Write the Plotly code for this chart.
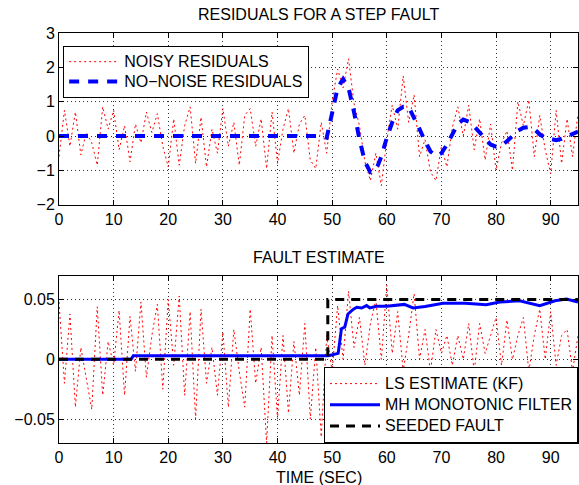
import plotly.graph_objects as go

# ---------------- data ----------------
t = list(range(0, 96))

noisy_residuals = [
    -0.6, 0.75, -0.3, 0.7, -0.55, 0.1, -0.2, -0.85, 0.85, 0.2,
    0.75, -0.4, 0.3, -0.75, 0.35, -0.2, 0.7, 0.1, 0.65, -0.3,
    -0.9, 0.5, -0.85, 0.3, 0.85, -0.8, 0.55, -0.9, 0.2, -0.5,
    0.8, -0.3, 0.4, -0.85, 0.6, 0.8, -0.3, 0.5, -0.95, 0.7,
    -0.8, 0.2, 0.8, -0.5, 0.35, 0.6, -0.7, -0.95, 0.4, -0.5,
    1.0, 1.95, 1.4, 2.25, 0.95, 0.3, -0.75, -1.3, -0.5, -1.45,
    -0.1, 0.9, 0.2, 1.75, 0.4, 1.2, -0.6, -0.1, -1.05, -1.3,
    -0.3, -0.9, 0.25, 0.85, 0.0, 0.9, -0.4, 0.5, -0.7, 0.35,
    -1.0, -0.2, 0.15, -1.0, 1.0, 0.3, 1.05, -0.6, 0.6, -0.4,
    -1.1, 0.75, -0.8, 0.5, -0.6, 0.65,
]

nonoise_residuals = [0.0] * 49 + [
    -0.05, 0.75, 1.4, 1.66, 1.4, 0.7, -0.1, -0.75, -1.05, -1.0,
    -0.6, -0.05, 0.4, 0.75, 0.85, 0.85, 0.55, 0.2, -0.15, -0.45,
    -0.58, -0.5, -0.25, 0.05, 0.35, 0.48, 0.42, 0.28, 0.1, -0.1,
    -0.25, -0.31, -0.28, -0.15, 0.0, 0.15, 0.24, 0.26, 0.2, 0.05,
    -0.05, -0.1, -0.12, -0.08, 0.0, 0.07, 0.13,
]

ls_estimate = [
    0.048, -0.02, 0.038, -0.04, 0.01, -0.015, -0.042, 0.044, -0.03, 0.015,
    -0.005, 0.041, -0.03, 0.036, -0.01, 0.048, -0.015, 0.02, 0.046, -0.025,
    0.05, -0.005, 0.053, -0.03, 0.04, -0.05, 0.042, -0.02, 0.01, -0.03,
    0.023, -0.04, 0.025, -0.01, -0.04, 0.042, -0.02, 0.01, -0.07, 0.02,
    -0.05, 0.02, -0.045, 0.015, -0.03, 0.03, -0.05, 0.01, -0.065, 0.02,
    -0.01, 0.045, 0.0, 0.057, 0.01, 0.035, -0.005, 0.03, 0.05, 0.0,
    0.062, 0.005, 0.04, -0.01, 0.02, 0.055, 0.0, 0.025, -0.01, 0.025,
    0.005, 0.02, -0.005, 0.02, 0.0, 0.03, -0.01, 0.03, 0.005, 0.02,
    0.035, -0.005, 0.033, 0.0, 0.02, 0.035, -0.01, 0.02, 0.042, 0.0,
    0.04, -0.005, 0.02, 0.025, -0.01, 0.02,
]

mh_t = [0, 13.2, 13.6, 49.3, 51.1, 51.7, 52.3, 52.9, 53.9, 54.5, 55.4, 56.3,
        56.9, 58.1, 60, 62.4, 63.2, 64.8, 67, 70.3, 74.4, 78.2, 80.7, 84.3,
        88, 90.8, 92.9, 95]
mh_filter = [0.0, 0.0, 0.003, 0.003, 0.005, 0.0257, 0.027, 0.038, 0.042, 0.0436,
             0.043, 0.045, 0.043, 0.0445, 0.0445, 0.0456, 0.046, 0.043, 0.0442,
             0.047, 0.047, 0.0457, 0.048, 0.049, 0.045, 0.049, 0.0505, 0.048]

fault_t = [0, 49.2, 49.2, 95]
seeded_fault = [0.0, 0.0, 0.05, 0.05]

x_ticks = [0, 10, 20, 30, 40, 50, 60, 70, 80, 90]
y1_ticks = [-2, -1, 0, 1, 2, 3]
y2_ticks = [-0.05, 0, 0.05]
y2_ticktext = ["\u22120.05", "0", "0.05"]

FONT = "Liberation Sans, Arial, sans-serif"


def lg(s):
    return '<span style="font-size:16px">' + s + '</span>'


fig = go.Figure()

fig.add_trace(go.Scatter(x=t, y=noisy_residuals, mode="lines", name=lg("NOISY RESIDUALS"),
                         line=dict(color="red", width=1, dash="2px,3px"),
                         xaxis="x", yaxis="y", legend="legend"))
fig.add_trace(go.Scatter(x=t, y=nonoise_residuals, mode="lines", name=lg("NO\u2212NOISE RESIDUALS"),
                         line=dict(color="blue", width=4, dash="10px,9px"),
                         xaxis="x", yaxis="y", legend="legend"))

fig.add_trace(go.Scatter(x=t, y=ls_estimate, mode="lines", name=lg("LS ESTIMATE (KF)"),
                         line=dict(color="red", width=1, dash="2px,3px"),
                         xaxis="x2", yaxis="y2", legend="legend2"))
fig.add_trace(go.Scatter(x=mh_t, y=mh_filter, mode="lines", name=lg("MH MONOTONIC FILTER"),
                         line=dict(color="blue", width=3),
                         xaxis="x2", yaxis="y2", legend="legend2"))
fig.add_trace(go.Scatter(x=fault_t, y=seeded_fault, mode="lines", name=lg("SEEDED FAULT"),
                         line=dict(color="black", width=3, dash="9px,7px"),
                         xaxis="x2", yaxis="y2", legend="legend2"))

axis_common = dict(
    showline=True, linecolor="black", linewidth=1, mirror="ticks",
    ticks="inside", ticklen=5, tickcolor="black",
    showgrid=True, gridcolor="#333333", gridwidth=1, griddash="1px,3px",
    zeroline=False, tickfont=dict(family=FONT, size=16, color="black"),
)

fig.update_layout(
    width=579, height=485,
    margin=dict(l=59, r=1, t=33, b=42),
    paper_bgcolor="white", plot_bgcolor="white",
    font=dict(family=FONT, size=16, color="black"),
    xaxis=dict(domain=[0, 1], range=[0, 95], anchor="y", tickvals=x_ticks, **axis_common),
    yaxis=dict(domain=[0.5812, 1], range=[-2, 3], anchor="x", tickvals=y1_ticks, **axis_common),
    xaxis2=dict(domain=[0, 1], range=[0, 95], anchor="y2", tickvals=x_ticks, **axis_common),
    yaxis2=dict(domain=[0, 0.408], range=[-0.07, 0.07], anchor="x2",
                tickvals=y2_ticks, ticktext=y2_ticktext, **axis_common),
    legend=dict(x=0.008, y=0.969, xanchor="left", yanchor="top",
                bgcolor="white", bordercolor="black", borderwidth=1,
                font=dict(family=FONT, size=13, color="black"), itemwidth=50,
                tracegroupgap=0),
    legend2=dict(x=1, y=0, xanchor="right", yanchor="bottom",
                 bgcolor="white", bordercolor="black", borderwidth=1,
                 font=dict(family=FONT, size=14, color="black"), itemwidth=50,
                 tracegroupgap=0),
    annotations=[
        dict(text="RESIDUALS FOR A STEP FAULT", x=0.5, y=1, xref="paper", yref="paper",
             xanchor="center", yanchor="middle", yshift=19, showarrow=False,
             font=dict(family=FONT, size=16, color="black")),
        dict(text="FAULT ESTIMATE", x=0.5, y=0.408, xref="paper", yref="paper",
             xanchor="center", yanchor="middle", yshift=18, showarrow=False,
             font=dict(family=FONT, size=16, color="black")),
        dict(text="TIME (SEC)", x=0.5, y=0, xref="paper", yref="paper",
             xanchor="center", yanchor="middle", yshift=-34, showarrow=False,
             font=dict(family=FONT, size=16, color="black")),
    ],
    showlegend=True,
)

fig.write_html("out.html")
